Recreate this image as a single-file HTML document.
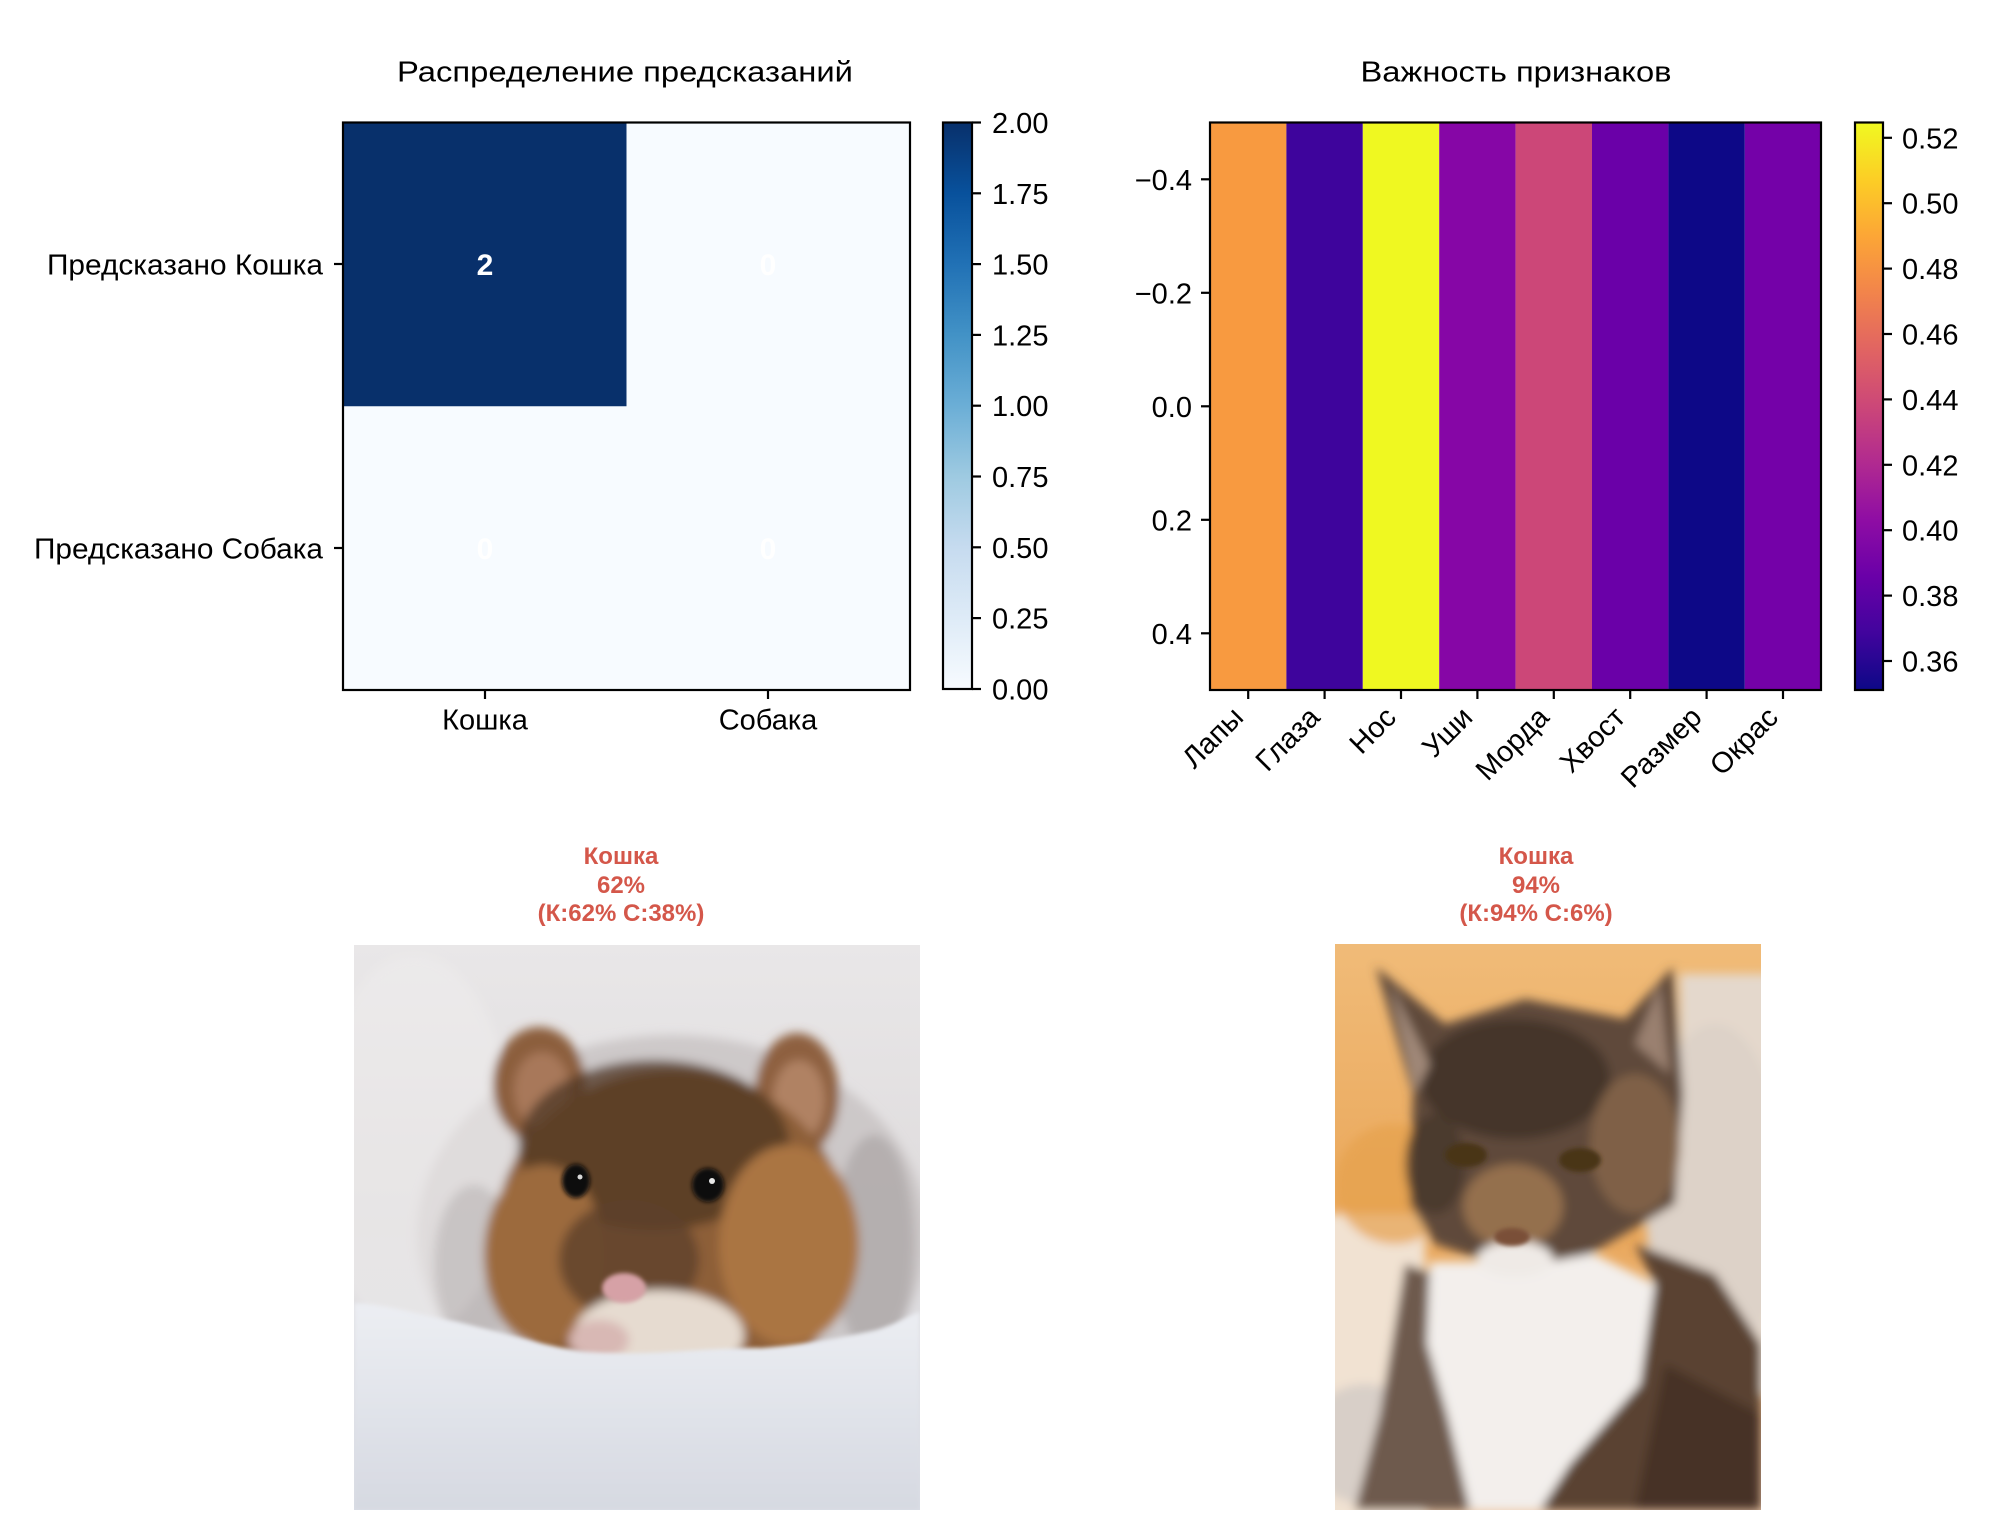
<!DOCTYPE html>
<html><head><meta charset="utf-8"><style>
html,body{margin:0;padding:0;background:#fff;}
svg{display:block;}
text{font-family:"Liberation Sans","DejaVu Sans",sans-serif;fill:#000;}
</style></head><body>
<svg width="2000" height="1539" viewBox="0 0 2000 1539" xmlns="http://www.w3.org/2000/svg">
<defs>
<linearGradient id="blues" x1="0" y1="1" x2="0" y2="0">
<stop offset="0" stop-color="#f7fbff"/><stop offset="0.125" stop-color="#deebf7"/><stop offset="0.25" stop-color="#c6dbef"/><stop offset="0.375" stop-color="#9ecae1"/><stop offset="0.5" stop-color="#6baed6"/><stop offset="0.625" stop-color="#4292c6"/><stop offset="0.75" stop-color="#2171b5"/><stop offset="0.875" stop-color="#08519c"/><stop offset="1" stop-color="#08306b"/>
</linearGradient>
<linearGradient id="plasma" x1="0" y1="1" x2="0" y2="0">
<stop offset="0" stop-color="#0d0887"/><stop offset="0.1" stop-color="#41049d"/><stop offset="0.2" stop-color="#6a00a8"/><stop offset="0.3" stop-color="#8f0da4"/><stop offset="0.4" stop-color="#b12a90"/><stop offset="0.5" stop-color="#cc4778"/><stop offset="0.6" stop-color="#e16462"/><stop offset="0.7" stop-color="#f2844b"/><stop offset="0.8" stop-color="#fca636"/><stop offset="0.9" stop-color="#fcce25"/><stop offset="1" stop-color="#f0f921"/>
</linearGradient>
<linearGradient id="snowbg" x1="0" y1="0" x2="0" y2="1">
<stop offset="0" stop-color="#e9e7e8"/><stop offset="0.5" stop-color="#dedbdc"/><stop offset="1" stop-color="#dcdfe7"/>
</linearGradient>
<linearGradient id="snowfront" x1="0" y1="0" x2="0" y2="1">
<stop offset="0" stop-color="#eceef3"/><stop offset="1" stop-color="#d6d9e1"/>
</linearGradient>
<linearGradient id="catbg" x1="0" y1="0" x2="0" y2="1">
<stop offset="0" stop-color="#f0bb78"/><stop offset="0.5" stop-color="#eaa75a"/><stop offset="1" stop-color="#ecc8a8"/>
</linearGradient>
<filter id="soft" x="-10%" y="-10%" width="120%" height="120%"><feGaussianBlur stdDeviation="5"/></filter>
<filter id="soft2" x="-10%" y="-10%" width="120%" height="120%"><feGaussianBlur stdDeviation="2"/></filter>
<clipPath id="cm"><rect x="0" y="0" width="566" height="565"/></clipPath>
<clipPath id="cc"><rect x="0" y="0" width="426" height="566"/></clipPath>
</defs>

<!-- ===== Left: confusion matrix ===== -->
<text x="625" y="81.6" font-size="29" text-anchor="middle" textLength="456" lengthAdjust="spacingAndGlyphs">Распределение предсказаний</text>
<rect x="343" y="122.5" width="567" height="567.5" fill="#f7fbff"/>
<rect x="343" y="122.5" width="283.5" height="283.75" fill="#08306b"/>
<text x="485" y="275" font-size="30" font-weight="bold" text-anchor="middle" style="fill:#fff">2</text>
<text x="768" y="275" font-size="30" font-weight="bold" text-anchor="middle" style="fill:#fff">0</text>
<text x="485" y="559" font-size="30" font-weight="bold" text-anchor="middle" style="fill:#fff">0</text>
<text x="768" y="559" font-size="30" font-weight="bold" text-anchor="middle" style="fill:#fff">0</text>
<rect x="343" y="122.5" width="567" height="567.5" fill="none" stroke="#000" stroke-width="2.2"/>
<line x1="334" y1="264" x2="343" y2="264" stroke="#000" stroke-width="2.2"/>
<line x1="334" y1="548" x2="343" y2="548" stroke="#000" stroke-width="2.2"/>
<text x="323" y="274.5" font-size="29" text-anchor="end" textLength="276" lengthAdjust="spacingAndGlyphs">Предсказано Кошка</text>
<text x="323" y="558.5" font-size="29" text-anchor="end" textLength="289" lengthAdjust="spacingAndGlyphs">Предсказано Собака</text>
<line x1="485" y1="690" x2="485" y2="699" stroke="#000" stroke-width="2.2"/>
<line x1="768" y1="690" x2="768" y2="699" stroke="#000" stroke-width="2.2"/>
<text x="485" y="729.5" font-size="29" text-anchor="middle">Кошка</text>
<text x="768" y="729.5" font-size="29" text-anchor="middle">Собака</text>
<rect x="943" y="122.5" width="29" height="566.5" fill="url(#blues)" stroke="#000" stroke-width="2.2"/>
<g stroke="#000" stroke-width="2.2">
<line x1="972" y1="122.5" x2="981" y2="122.5"/><line x1="972" y1="193.3" x2="981" y2="193.3"/><line x1="972" y1="264.1" x2="981" y2="264.1"/><line x1="972" y1="334.9" x2="981" y2="334.9"/><line x1="972" y1="405.7" x2="981" y2="405.7"/><line x1="972" y1="476.5" x2="981" y2="476.5"/><line x1="972" y1="547.3" x2="981" y2="547.3"/><line x1="972" y1="618.1" x2="981" y2="618.1"/><line x1="972" y1="689" x2="981" y2="689"/>
</g>
<g font-size="29">
<text x="992" y="133">2.00</text><text x="992" y="203.8">1.75</text><text x="992" y="274.6">1.50</text><text x="992" y="345.4">1.25</text><text x="992" y="416.2">1.00</text><text x="992" y="487">0.75</text><text x="992" y="557.8">0.50</text><text x="992" y="628.6">0.25</text><text x="992" y="699.5">0.00</text>
</g>

<!-- ===== Right: feature importance ===== -->
<text x="1516" y="81.6" font-size="29" text-anchor="middle" textLength="311" lengthAdjust="spacingAndGlyphs">Важность признаков</text>
<rect x="1210" y="122.5" width="76.4" height="567.5" fill="#f89a40"/>
<rect x="1286.4" y="122.5" width="76.4" height="567.5" fill="#3e049c"/>
<rect x="1362.8" y="122.5" width="76.4" height="567.5" fill="#eff821"/>
<rect x="1439.2" y="122.5" width="76.4" height="567.5" fill="#8606a6"/>
<rect x="1515.6" y="122.5" width="76.4" height="567.5" fill="#cc4778"/>
<rect x="1592" y="122.5" width="76.4" height="567.5" fill="#6a00a8"/>
<rect x="1668.4" y="122.5" width="76.4" height="567.5" fill="#0d0887"/>
<rect x="1744.8" y="122.5" width="76.2" height="567.5" fill="#7401a8"/>
<rect x="1210" y="122.5" width="611" height="567.5" fill="none" stroke="#000" stroke-width="2.2"/>
<g stroke="#000" stroke-width="2.2">
<line x1="1201" y1="179.3" x2="1210" y2="179.3"/><line x1="1201" y1="292.8" x2="1210" y2="292.8"/><line x1="1201" y1="406.3" x2="1210" y2="406.3"/><line x1="1201" y1="519.8" x2="1210" y2="519.8"/><line x1="1201" y1="633.3" x2="1210" y2="633.3"/>
</g>
<g font-size="29" text-anchor="end">
<text x="1192" y="189.8">−0.4</text><text x="1192" y="303.3">−0.2</text><text x="1192" y="416.8">0.0</text><text x="1192" y="530.3">0.2</text><text x="1192" y="643.8">0.4</text>
</g>
<g stroke="#000" stroke-width="2.2">
<line x1="1248.2" y1="690" x2="1248.2" y2="699"/><line x1="1324.6" y1="690" x2="1324.6" y2="699"/><line x1="1401" y1="690" x2="1401" y2="699"/><line x1="1477.4" y1="690" x2="1477.4" y2="699"/><line x1="1553.8" y1="690" x2="1553.8" y2="699"/><line x1="1630.2" y1="690" x2="1630.2" y2="699"/><line x1="1706.6" y1="690" x2="1706.6" y2="699"/><line x1="1783" y1="690" x2="1783" y2="699"/>
</g>
<g font-size="29" text-anchor="end">
<text transform="translate(1245,719) rotate(-45)">Лапы</text>
<text transform="translate(1321.4,719) rotate(-45)">Глаза</text>
<text transform="translate(1397.8,719) rotate(-45)">Нос</text>
<text transform="translate(1474.2,719) rotate(-45)">Уши</text>
<text transform="translate(1550.6,719) rotate(-45)">Морда</text>
<text transform="translate(1627,719) rotate(-45)">Хвост</text>
<text transform="translate(1703.4,719) rotate(-45)">Размер</text>
<text transform="translate(1779.8,719) rotate(-45)">Окрас</text>
</g>
<rect x="1855" y="122.5" width="28" height="567.5" fill="url(#plasma)" stroke="#000" stroke-width="2.2"/>
<g stroke="#000" stroke-width="2.2">
<line x1="1883" y1="137.8" x2="1892" y2="137.8"/><line x1="1883" y1="203.2" x2="1892" y2="203.2"/><line x1="1883" y1="268.6" x2="1892" y2="268.6"/><line x1="1883" y1="334" x2="1892" y2="334"/><line x1="1883" y1="399.4" x2="1892" y2="399.4"/><line x1="1883" y1="464.8" x2="1892" y2="464.8"/><line x1="1883" y1="530.2" x2="1892" y2="530.2"/><line x1="1883" y1="595.6" x2="1892" y2="595.6"/><line x1="1883" y1="661" x2="1892" y2="661"/>
</g>
<g font-size="29">
<text x="1902" y="148.3">0.52</text><text x="1902" y="213.7">0.50</text><text x="1902" y="279.1">0.48</text><text x="1902" y="344.5">0.46</text><text x="1902" y="409.9">0.44</text><text x="1902" y="475.3">0.42</text><text x="1902" y="540.7">0.40</text><text x="1902" y="606.1">0.38</text><text x="1902" y="671.5">0.36</text>
</g>

<!-- ===== Bottom titles ===== -->
<g font-size="24" font-weight="bold" text-anchor="middle">
<text x="621" y="864" style="fill:#d4574a">Кошка</text>
<text x="621" y="893" style="fill:#d4574a">62%</text>
<text x="621" y="921" style="fill:#d4574a">(К:62% С:38%)</text>
<text x="1536" y="864" style="fill:#d4574a">Кошка</text>
<text x="1536" y="893" style="fill:#d4574a">94%</text>
<text x="1536" y="921" style="fill:#d4574a">(К:94% С:6%)</text>
</g>

<!-- ===== Mouse photo ===== -->
<g transform="translate(354,945)" clip-path="url(#cm)">
<rect x="0" y="0" width="566" height="565" fill="url(#snowbg)"/>
<g filter="url(#soft)">
<ellipse cx="318" cy="290" rx="255" ry="200" fill="#c3bebe" opacity="0.7"/>
<ellipse cx="60" cy="200" rx="100" ry="190" fill="#eeeced" opacity="0.55"/>
<ellipse cx="520" cy="300" rx="40" ry="110" fill="#a9a4a4" opacity="0.7"/>
<ellipse cx="120" cy="320" rx="40" ry="80" fill="#b9b4b4" opacity="0.6"/>
<ellipse cx="185" cy="140" rx="46" ry="58" fill="#8c5e3e"/>
<ellipse cx="188" cy="145" rx="28" ry="38" fill="#a8785a"/>
<ellipse cx="443" cy="150" rx="42" ry="62" fill="#8e603f"/>
<ellipse cx="445" cy="155" rx="26" ry="40" fill="#b08263"/>
<ellipse cx="318" cy="295" rx="178" ry="170" fill="#8d5f37"/>
<ellipse cx="300" cy="200" rx="135" ry="85" fill="#4e3624" opacity="0.75"/>
<ellipse cx="435" cy="300" rx="70" ry="100" fill="#aa7442"/>
<ellipse cx="190" cy="310" rx="60" ry="90" fill="#9c6a3e"/>
<ellipse cx="275" cy="315" rx="70" ry="60" fill="#5e412c" opacity="0.8"/>
<ellipse cx="305" cy="390" rx="85" ry="45" fill="#e6dbd0"/>
<ellipse cx="245" cy="395" rx="30" ry="20" fill="#d8b8b4"/>
</g>
<g filter="url(#soft2)">
<ellipse cx="270" cy="343" rx="22" ry="15" fill="#d6a1a6"/>
<ellipse cx="222" cy="236" rx="14" ry="17" fill="#0c0a0a"/>
<ellipse cx="354" cy="240" rx="16" ry="17" fill="#0c0a0a"/>
</g>
<circle cx="358" cy="236" r="3" fill="#e8e8e8"/>
<circle cx="226" cy="232" r="2.5" fill="#d8d8d8"/>
<path d="M0,358 C40,360 70,372 100,376 C160,390 210,408 254,408 C310,410 360,402 407,403 C450,400 490,392 522,385 C545,378 556,370 566,367 L566,565 L0,565 Z" fill="url(#snowfront)" filter="url(#soft2)"/>
</g>

<!-- ===== Cat photo ===== -->
<g transform="translate(1335,944)" clip-path="url(#cc)">
<rect x="0" y="0" width="426" height="566" fill="url(#catbg)"/>
<g filter="url(#soft)">
<rect x="345" y="30" width="100" height="420" fill="#e4d8cc"/>
<ellipse cx="380" cy="250" rx="70" ry="170" fill="#ddd2c8"/>
<rect x="-20" y="270" width="110" height="320" fill="#f1e2d2"/>
<ellipse cx="30" cy="500" rx="60" ry="60" fill="#d8cfc8"/>
<ellipse cx="60" cy="240" rx="60" ry="60" fill="#e6a14d" opacity="0.7"/>
<path d="M300,300 L380,330 L426,400 L426,566 L200,566 L240,510 L300,440 L320,340 Z" fill="#5a4232"/>
<path d="M330,420 L426,470 L426,566 L300,566 Z" fill="#3e2e24" opacity="0.7"/>
<path d="M70,320 L100,330 L115,470 L140,566 L20,566 L45,470 Z" fill="#6e5a4e"/>
<path d="M95,318 L150,318 L255,308 L320,340 L305,440 L235,520 L205,566 L135,566 L112,470 L92,400 Z" fill="#f3efec"/>
<path d="M41,23 L110,80 L190,55 L290,75 L338,23 L348,150 L340,260 L255,310 L175,325 L100,300 L75,260 L78,150 Z" fill="#5f4a3a"/>
<ellipse cx="180" cy="135" rx="95" ry="60" fill="#3a2c22" opacity="0.7"/>
<ellipse cx="300" cy="200" rx="45" ry="70" fill="#8a6a4c" opacity="0.75"/>
<ellipse cx="100" cy="220" rx="30" ry="50" fill="#443428" opacity="0.7"/>
<path d="M55,40 L95,120 L80,150 Z" fill="#a08878"/>
<path d="M325,40 L300,100 L335,130 Z" fill="#9a8070"/>
<ellipse cx="178" cy="262" rx="50" ry="42" fill="#94704e"/>
<ellipse cx="180" cy="315" rx="38" ry="18" fill="#efeae6"/>
</g>
<g filter="url(#soft2)">
<ellipse cx="131" cy="211" rx="21" ry="12" fill="#4a3418"/>
<ellipse cx="245" cy="216" rx="21" ry="12" fill="#4a3418"/>
<ellipse cx="177" cy="293" rx="18" ry="9" fill="#7a5038"/>
</g>
</g>
</svg>
</body></html>
